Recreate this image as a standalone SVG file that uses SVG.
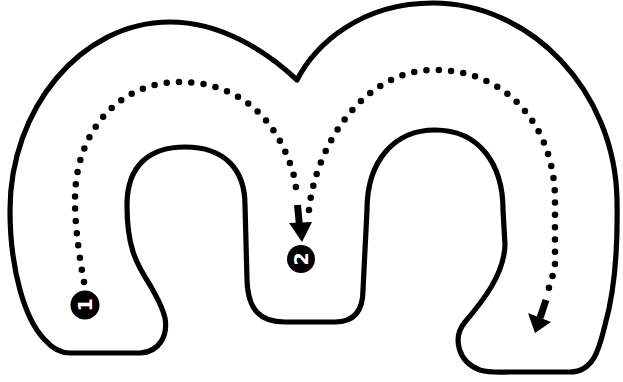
<svg xmlns="http://www.w3.org/2000/svg" width="623" height="382" viewBox="0 0 623 382">
<style>
.outline{fill:#fff;stroke:#000;stroke-width:5.2;stroke-linejoin:round}
.dots{fill:none;stroke:#000;stroke-width:6.5;stroke-linecap:round;stroke-dasharray:0 12.3}
.shaft{stroke:#000;stroke-width:7}
.num{font-family:"DejaVu Sans","Liberation Sans",sans-serif;font-weight:bold;font-size:19px;fill:#fff;text-anchor:middle}
</style>
<rect width="623" height="382" fill="#fff"/>
<g id="letter-m">
<path class="outline" d="M70,353 L140,353 C160,352 168,335 165,318 C162,305 157,298 150,285 C135,262 127,245 127,205 C127,165 150,147 185,147 C225,147 245,170 245,205 L247,280 C248,310 260,322 285,322 L335,322 C355,322 363,310 363,290 L367,210 C367,160 395,130 435,130 C480,130 503,165 503,210 L505,245 C504,275 482,302 465,322 C452,338 458,362 480,370 C490,373 500,372 510,372 L570,372 C595,372 600,345 605,325 C615,290 618,250 617,200 C615,90 530,3 433,3 C360,3 315,45 297,80 C265,50 220,22 170,22 C80,22 10,110 10,210 C10,270 25,320 45,340 C52,348 60,353 70,353 Z"/>
</g>
<g id="connectors">
<path class="dots" d="M84,282 C78,250 75,222 75,200 C75,130 120,82 180,82 C240,82 280,120 295,180 L297,196"/>
<line class="shaft" x1="297.5" y1="205" x2="299.5" y2="226"/>
<polygon points="289,223 312,222 302,242" fill="#000"/>
<path class="dots" d="M309,210 C315,150 360,70 435,70 C510,70 555,130 555,200 L555,268 L547,294"/>
<line class="shaft" x1="546" y1="300" x2="540" y2="318"/>
<polygon points="528,313 551,322 535,333" fill="#000"/>
</g>
<g id="step-1">
<circle cx="85" cy="305" r="14.5" fill="#000"/>
<text class="num" transform="translate(85,305) rotate(-90)" y="7">1</text>
</g>
<g id="step-2">
<circle cx="301" cy="259" r="14" fill="#000"/>
<text class="num" transform="translate(301,259) rotate(-90)" y="7">2</text>
</g>
</svg>
